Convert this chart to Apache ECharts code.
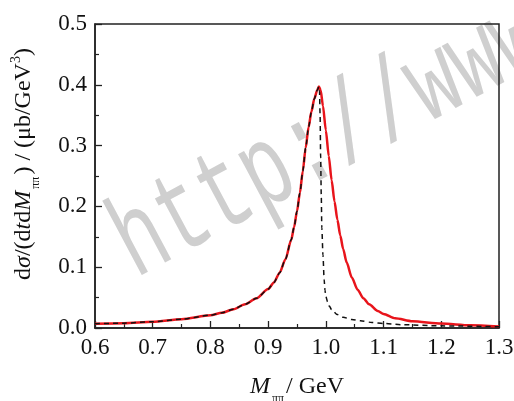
<!DOCTYPE html>
<html>
<head>
<meta charset="utf-8">
<script src="https://cdn.jsdelivr.net/npm/echarts@6/dist/echarts.min.js"></script>
<style>html,body{margin:0;padding:0;background:#fff;}#c{width:514px;height:401px;}</style>
</head>
<body>
<div id="c"></div>
<script>
// Red solid curve
const xRed = [0.60,0.65,0.70,0.75,0.80,0.82,0.84,0.86,0.88,0.90,0.91,0.92,0.93,0.94,0.945,0.95,0.955,0.96,0.965,0.97,0.975,0.98,0.985,0.988,0.991,0.995,1.000,1.005,1.010,1.015,1.020,1.025,1.030,1.036,1.045,1.055,1.065,1.075,1.090,1.100,1.120,1.150,1.200,1.250,1.300];
const yRed = [0.007,0.008,0.0102,0.0145,0.021,0.025,0.031,0.039,0.049,0.064,0.075,0.091,0.113,0.145,0.166,0.192,0.222,0.258,0.296,0.330,0.356,0.377,0.391,0.397,0.391,0.365,0.325,0.283,0.243,0.208,0.178,0.152,0.130,0.108,0.083,0.063,0.049,0.039,0.028,0.023,0.016,0.011,0.0073,0.0045,0.0025];
// Black dashed curve
const xDash = [0.60,0.65,0.70,0.75,0.80,0.82,0.84,0.86,0.88,0.90,0.91,0.92,0.93,0.94,0.945,0.95,0.955,0.96,0.965,0.97,0.975,0.98,0.985,0.988,0.989,0.990,0.991,0.992,0.993,0.995,0.997,0.9985,1.000,1.003,1.006,1.010,1.020,1.030,1.045,1.060,1.080,1.100,1.130,1.200,1.300];
const yDash = [0.007,0.008,0.0102,0.0145,0.021,0.025,0.031,0.039,0.049,0.064,0.075,0.091,0.113,0.145,0.166,0.192,0.222,0.258,0.296,0.330,0.356,0.377,0.391,0.397,0.390,0.350,0.280,0.220,0.165,0.120,0.080,0.062,0.052,0.043,0.036,0.030,0.022,0.0176,0.014,0.012,0.009,0.0075,0.0055,0.0035,0.002];
const xTicks = ['0.6','0.7','0.8','0.9','1.0','1.1','1.2','1.3'];
const yTicks = ['0.0','0.1','0.2','0.3','0.4','0.5'];
const watermark = 'http://www';

const serif = '"Liberation Serif", "Times New Roman", serif';
const richStyles = {
  n: {fontFamily: serif, fontSize: 24, color: '#111', lineHeight: 28, verticalAlign: 'middle'},
  i: {fontFamily: serif, fontSize: 24, color: '#111', fontStyle: 'italic', lineHeight: 28, verticalAlign: 'middle'},
  sub: {fontFamily: serif, fontSize: 12, color: '#111', lineHeight: 12, verticalAlign: 'middle', padding: [24,2,0,2]},
  sup: {fontFamily: serif, fontSize: 14, color: '#111', lineHeight: 14, verticalAlign: 'middle', padding: [0,0,16,0]}
};

const chart = echarts.init(document.getElementById('c'), null, {renderer: 'canvas'});
const pair = (xs, ys) => xs.map((x, k) => [x, ys[k]]);
chart.setOption({
  animation: false,
  backgroundColor: '#fff',
  grid: {left: 95, right: 15, top: 24, bottom: 73, containLabel: false, outerBoundsMode: 'none',
         show: true, borderColor: '#222', borderWidth: 1.5, backgroundColor: 'transparent'},
  graphic: [{
    type: 'text', x: 330, y: 140, rotation: 28 * Math.PI / 180, scaleX: 0.68, z: -10, silent: true,
    style: {text: watermark, fontFamily: '"Liberation Mono", monospace', fontSize: 116, fill: '#cfcfcf',
            align: 'center', verticalAlign: 'middle'}
  }],
  xAxis: {
    type: 'value', min: 0.6, max: 1.3, interval: 0.1,
    name: '{i|M}{sub|ππ}{n|/ GeV}', nameLocation: 'middle', nameGap: 45,
    nameTextStyle: {rich: richStyles},
    axisLine: {lineStyle: {color: '#222', width: 1.5}},
    axisTick: {inside: true, length: 7, lineStyle: {color: '#222', width: 1.3}},
    minorTick: {show: true, splitNumber: 2, length: 4, lineStyle: {color: '#222', width: 1.2}},
    splitLine: {show: false},
    axisLabel: {margin: 8, color: '#111', fontFamily: serif, fontSize: 23, formatter: (v) => xTicks[Math.round((v - 0.6) * 10)]}
  },
  yAxis: {
    type: 'value', min: 0, max: 0.5, interval: 0.1,
    name: '{n|d}{i|σ}{n|/(d}{i|t}{n|d}{i|M}{sub|ππ}{n|) / (μb/GeV}{sup|3}{n|)}', nameLocation: 'middle', nameGap: 57, nameRotate: 90,
    nameTextStyle: {rich: richStyles, padding: [0,0,0,24]},
    axisLine: {lineStyle: {color: '#222', width: 1.5}},
    axisTick: {inside: true, length: 7, lineStyle: {color: '#222', width: 1.3}},
    minorTick: {show: true, splitNumber: 2, length: 4, lineStyle: {color: '#222', width: 1.2}},
    splitLine: {show: false},
    axisLabel: {margin: 8, color: '#111', fontFamily: serif, fontSize: 23, formatter: (v) => yTicks[Math.round(v * 10)]}
  },
  series: [
    {type: 'line', data: pair(xRed, yRed), showSymbol: false, smooth: 0.25, smoothMonotone: 'x',
     lineStyle: {color: '#e8141b', width: 2.5}, z: 3},
    {type: 'line', data: pair(xDash, yDash), showSymbol: false, smooth: 0.25, smoothMonotone: 'x',
     lineStyle: {color: '#111', width: 1.5, type: [5, 4]}, z: 4}
  ]
});
</script>
</body>
</html>
